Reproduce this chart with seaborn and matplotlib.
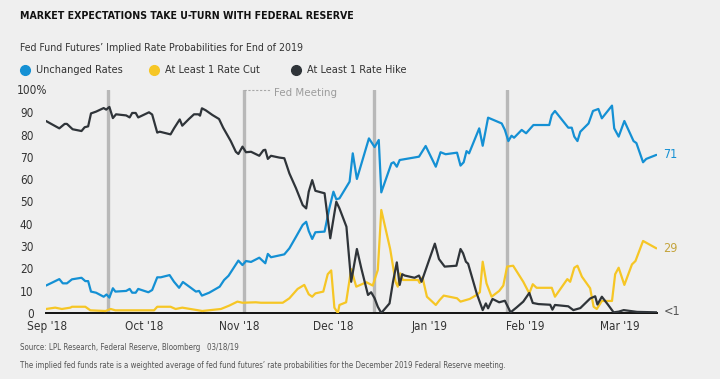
"""
Fed fund futures implied rate probabilities, Sep 2018 - Mar 2019
"""
import matplotlib
matplotlib.use("Agg")
import matplotlib.pyplot as plt
from matplotlib.lines import Line2D
import pandas as pd
import seaborn as sns

# x values are days since 2018-09-01
unchanged_days = [5.5, 7.4, 9.7, 10.8, 12.1, 13.7, 16.7, 17.9, 18.8, 19.7, 21.3, 23.7, 24.6, 25.5, 26.6, 27.4,
                  30.8, 31.9, 32.7, 33.8, 34.6, 37.8, 39.0, 40.6, 41.7, 44.5, 45.9, 47.5, 48.7, 51.2, 52.8,
                  53.8, 54.7, 57.0, 60.3, 61.7, 63.1, 66.2, 67.5, 68.6, 70.2, 72.8, 74.7, 75.5, 76.5, 80.7,
                  82.3, 84.4, 86.5, 87.6, 88.4, 89.5, 90.5, 93.4, 94.9, 96.2, 97.1, 98.1, 101.3, 102.3,
                  103.6, 107.4, 109.2, 110.5, 111.3, 114.5, 115.2, 116.2, 117.1, 123.2, 125.3, 128.5, 130.0,
                  131.6, 135.2, 136.3, 137.3, 138.2, 139.0, 142.2, 143.3, 145.0, 149.3, 150.3, 151.4, 152.4,
                  153.2, 155.6, 157.0, 159.3, 164.3, 165.1, 166.1, 170.3, 171.4, 172.2, 173.2, 174.1, 176.7,
                  178.1, 179.8, 180.9, 184.1, 184.8, 186.2, 188.0, 190.9, 191.8, 193.9, 194.9, 198.1]
unchanged_vals = [12.3, 13.6, 15.2, 13.3, 13.3, 15.1, 15.8, 14.3, 14.3, 9.6, 9.1, 7.3, 8.3, 6.9, 11.1, 9.6,
                  9.9, 10.8, 9.1, 9.1, 10.8, 9.3, 10.3, 16.0, 16.0, 17.0, 14.0, 11.3, 13.9, 11.3, 9.6,
                  9.9, 7.8, 9.1, 11.8, 14.8, 16.7, 23.5, 21.5, 23.3, 22.9, 24.8, 22.3, 26.5, 25.0, 26.3,
                  29.0, 34.2, 39.5, 40.9, 36.8, 33.2, 36.2, 36.5, 46.9, 54.4, 51.0, 51.4, 58.9, 71.6,
                  60.1, 78.3, 74.4, 77.6, 54.1, 67.1, 67.6, 65.6, 68.6, 70.1, 74.9, 65.6, 72.1,
                  71.2, 71.9, 66.1, 67.6, 72.6, 71.6, 82.8, 75.0, 87.6, 85.0, 82.1, 77.1, 79.5,
                  78.6, 82.1, 80.6, 84.3, 84.3, 88.8, 90.6, 83.1, 83.1, 79.1, 77.1, 81.3, 85.0,
                  90.6, 91.5, 87.3, 93.0, 82.8, 79.1, 86.1, 77.1, 76.2, 67.6, 69.1, 70.9]

cut_days = [5.5, 8.4, 10.5, 13.2, 13.7, 17.9, 19.5, 24.3, 25.9, 27.4, 34.8, 39.6, 40.6, 44.8, 46.4, 48.5,
            53.6, 54.8, 60.7, 63.3, 65.9, 67.5, 71.7, 73.3, 80.2, 82.3, 84.9, 87.0, 88.4, 89.5, 90.5,
            93.0, 94.4, 95.5, 96.5, 97.6, 98.1, 100.2, 101.8, 103.4, 106.6, 108.6, 110.2, 111.3, 114.1,
            115.8, 116.5, 117.3, 118.1, 122.9, 123.4, 124.3, 125.7, 128.5, 129.7, 131.0, 135.2, 136.3,
            139.2, 141.4, 142.4, 143.3, 144.5, 146.1, 148.5, 149.8, 151.0, 152.9, 156.1, 158.0, 159.1,
            160.3, 165.1, 166.1, 170.0, 170.9, 172.2, 173.2, 174.6, 177.2, 178.3, 179.3, 180.9, 184.1,
            185.1, 186.2, 188.0, 190.4, 191.5, 193.9, 198.1]
cut_vals = [1.8, 2.4, 1.8, 2.4, 2.8, 2.8, 1.2, 0.9, 1.8, 1.2, 1.2, 1.2, 2.8, 2.8, 1.8, 2.4,
            1.2, 0.9, 1.8, 3.3, 5.1, 4.6, 4.8, 4.6, 4.6, 6.6, 10.8, 12.6, 8.4, 7.3, 8.8,
            9.6, 17.4, 19.1, 2.4, 0.0, 3.6, 4.8, 19.7, 11.8, 13.8, 12.3, 19.3, 46.2, 28.7,
            14.0, 11.8, 17.8, 14.8, 14.8, 13.5, 16.0, 7.3, 3.6, 5.8, 7.8, 6.6, 5.1,
            6.3, 8.1, 9.3, 23.0, 13.3, 7.3, 9.9, 12.3, 20.8, 21.2, 14.0, 8.8, 12.9,
            11.3, 11.3, 7.3, 15.2, 14.0, 20.3, 21.2, 16.3, 11.1, 2.8, 1.8, 5.4, 5.4,
            17.4, 20.3, 12.6, 21.8, 23.3, 32.3, 29.0]

hike_days = [5.5, 7.4, 9.7, 11.4, 12.1, 13.9, 16.7, 17.7, 18.8, 19.7, 21.3, 23.7, 24.5, 25.5, 26.6, 27.6,
             30.8, 31.9, 32.7, 33.8, 34.6, 38.0, 39.0, 40.6, 41.4, 44.8, 45.9, 47.7, 48.5, 50.6, 52.2,
             53.6, 54.1, 54.7, 55.9, 58.0, 60.1, 61.4, 63.8, 65.4, 66.2, 67.5, 68.6, 70.2, 72.8, 74.1,
             74.7, 75.5, 76.5, 79.1, 80.7, 82.3, 84.4, 86.5, 87.6, 88.4, 89.5, 90.5, 92.3, 93.4, 95.2,
             97.1, 98.1, 100.3, 101.8, 103.6, 105.0, 107.1, 108.1, 109.2, 110.2, 111.3, 113.9, 115.0,
             116.2, 117.1, 117.9, 118.7, 121.8, 123.2, 124.0, 126.4, 128.2, 129.5, 131.3, 135.0, 136.3,
             137.1, 138.0, 138.7, 141.4, 143.3, 144.3, 145.0, 146.4, 148.5, 150.3, 152.1, 154.0, 156.1,
             158.0, 159.1, 160.9, 164.6, 165.3, 166.1, 170.3, 171.9, 174.1, 177.2, 178.8, 179.5, 180.9,
             182.9, 184.6, 186.2, 187.8, 192.0, 198.3]
hike_vals = [86.1, 84.6, 82.8, 84.8, 84.8, 82.4, 81.6, 83.3, 83.7, 89.5, 90.3, 91.9, 91.2, 92.4, 87.4, 89.1,
             88.6, 87.7, 89.7, 89.7, 87.7, 90.0, 89.0, 80.9, 81.3, 80.1, 82.8, 86.8, 84.0, 87.0, 89.1,
             89.1, 88.5, 91.8, 90.9, 88.8, 87.0, 83.1, 77.1, 72.3, 71.3, 74.6, 72.1, 72.3, 70.5, 73.0,
             73.2, 69.1, 70.5, 69.7, 69.4, 62.6, 55.9, 48.4, 46.9, 54.4, 59.6, 54.8, 54.1, 53.7, 33.5,
             49.9, 46.9, 38.7, 14.0, 28.7, 20.0, 8.1, 9.3, 6.6, 2.8, 0.0, 4.3, 14.0,
             22.7, 12.6, 17.4, 16.8, 15.8, 16.8, 14.0, 23.8, 31.1, 24.2, 20.8, 21.2, 28.7,
             26.8, 23.0, 22.1, 8.8, 1.3, 4.3, 2.1, 6.3, 4.8, 5.5, 0.3, 2.5, 5.1,
             9.0, 4.5, 4.0, 3.7, 1.5, 3.6, 3.0, 1.3, 2.2, 6.5, 7.5, 3.8, 7.3,
             3.6, 0.3, 0.6, 1.3, 0.5, 0.3]

series_names = ["Unchanged Rates", "At Least 1 Rate Cut", "At Least 1 Rate Hike"]
series_colors = ["#1490d4", "#f6c625", "#2f3439"]
end_labels = ["71", "29", "<1"]
end_values = [71, 29, 0.5]
end_colors = ["#1490d4", "#c4a43c", "#555555"]

fed_meetings = [25, 68, 109, 151]  # Sep 26, Nov 8, Dec 19, Jan 30
month_ticks = [5.7, 36.4, 66.5, 96.2, 126.6, 156.6, 186.7]
month_labels = ["Sep '18", "Oct '18", "Nov '18", "Dec '18", "Jan '19", "Feb '19", "Mar '19"]
y_ticks = list(range(0, 101, 10))

BG = "#efefef"
sns.set_style("white", {"axes.facecolor": BG, "figure.facecolor": BG})
plt.rcParams["font.family"] = ["DejaVu Sans"]
plt.rcParams["font.stretch"] = "condensed"

frames = []
for name, d, v in zip(series_names,
                      [unchanged_days, cut_days, hike_days],
                      [unchanged_vals, cut_vals, hike_vals]):
    frames.append(pd.DataFrame({"day": d, "prob": v, "series": name}))
df = pd.concat(frames, ignore_index=True)

fig = plt.figure(figsize=(7.2, 3.79), dpi=100)
ax = fig.add_axes([46 / 720, 1 - 313 / 379, 611 / 720, 223 / 379])

# Fed meeting markers
for d in fed_meetings:
    ax.axvline(d, color="#b8b8b8", lw=2.4, zorder=1)

sns.lineplot(data=df, x="day", y="prob", hue="series", hue_order=series_names,
             palette=series_colors, estimator=None, sort=False, lw=1.6,
             legend=False, ax=ax, zorder=3)

ax.set_xlim(5.5, 198.3)
ax.set_ylim(0, 100)
ax.set_xticks(month_ticks)
ax.set_xticklabels(month_labels, fontsize=8.5, color="#333333")
ax.set_yticks(y_ticks)
# top label "100%" is drawn separately so the digits line up with the others
ax.set_yticklabels([str(t) if t < 100 else "" for t in y_ticks], fontsize=8.5, color="#333333")
ax.tick_params(axis="both", length=0)
ax.tick_params(axis="y", pad=9)
ax.tick_params(axis="x", pad=5)
ax.set_xlabel("")
ax.set_ylabel("")
for s in ["top", "right", "left"]:
    ax.spines[s].set_visible(False)
ax.spines["bottom"].set_color("#111111")
ax.spines["bottom"].set_linewidth(1.4)
ax.annotate(f"{y_ticks[-1]}%", xy=(0, y_ticks[-1]), xycoords=("axes fraction", "data"),
            xytext=(-21.3, 0), textcoords="offset points", ha="left", va="center",
            fontsize=8.5, color="#333333")

# "Fed Meeting" key
ax.plot([68, 76.5], [100, 100], color="#a8a8a8", lw=0.8, ls=(0, (2, 1.5)), clip_on=False)
ax.text(77.3, 98.6, "Fed Meeting", fontsize=8.2, color="#9c9c9c", va="center", ha="left")

# end-of-line labels
for lab, val, col in zip(end_labels, end_values, end_colors):
    ax.text(200.3, val, lab, fontsize=9, color=col, va="center", ha="left", clip_on=False)

# titles
fig.text(20 / 720, 1 - 16 / 379, "MARKET EXPECTATIONS TAKE U-TURN WITH FEDERAL RESERVE",
         fontsize=7.6, fontweight="bold", color="#111111", va="center", ha="left")
fig.text(20 / 720, 1 - 48 / 379, "Fed Fund Futures\u2019 Implied Rate Probabilities for End of 2019",
         fontsize=7.6, color="#333333", va="center", ha="left")

# legend row
marker_x = [25, 154, 296]
for mx, name, col in zip(marker_x, series_names, series_colors):
    fig.add_artist(Line2D([mx / 720], [1 - 70 / 379], marker="o", ms=7, color=col,
                          transform=fig.transFigure))
    fig.text((mx + 11) / 720, 1 - 70 / 379, name, fontsize=7.8, color="#333333",
             va="center", ha="left")

# footnotes
fig.text(20 / 720, 1 - 347 / 379, "Source: LPL Research, Federal Reserve, Bloomberg   03/18/19",
         fontsize=5.7, color="#555555", va="center", ha="left")
fig.text(20 / 720, 1 - 365 / 379,
         "The implied fed funds rate is a weighted average of fed fund futures\u2019 rate probabilities "
         "for the December 2019 Federal Reserve meeting.",
         fontsize=5.7, color="#555555", va="center", ha="left")

fig.savefig("out.png", dpi=100, facecolor=BG)
